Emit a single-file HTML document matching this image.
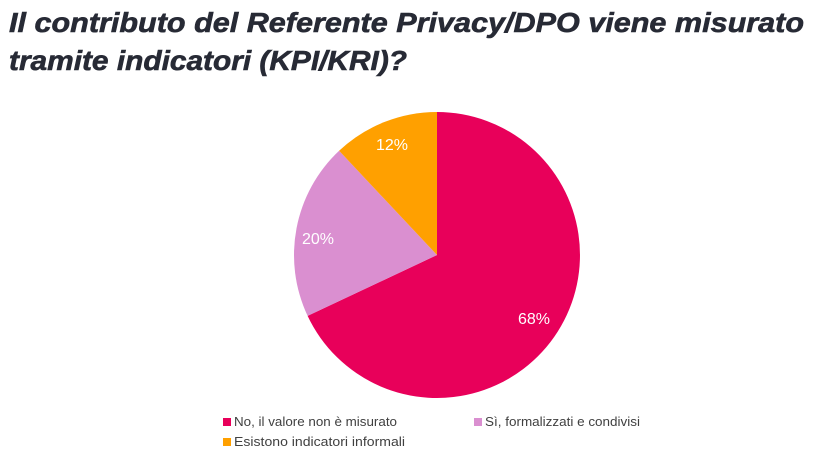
<!DOCTYPE html>
<html><head><style>body{margin:0;background:#fff}svg{display:block}</style></head>
<body>
<svg width="819" height="465" xmlns="http://www.w3.org/2000/svg">
<g font-family="Liberation Sans, sans-serif" font-weight="bold" font-style="italic" fill="#272a35" stroke="#272a35" stroke-width="0.6" font-size="28">
<text x="9" y="32" textLength="795" lengthAdjust="spacingAndGlyphs">Il contributo del Referente Privacy/DPO viene misurato</text>
<text x="9" y="70" textLength="398" lengthAdjust="spacingAndGlyphs">tramite indicatori (KPI/KRI)?</text>
</g>
<path d="M437 255 L437 112 A143 143 0 1 1 307.6 315.9 Z" fill="#e8005a"/>
<path d="M437 255 L307.6 315.9 A143 143 0 0 1 339.1 150.8 Z" fill="#da8fd0"/>
<path d="M437 255 L339.1 150.8 A143 143 0 0 1 437 112 Z" fill="#ffa000"/>
<g font-family="Liberation Sans, sans-serif" fill="#fff" font-size="16" text-anchor="middle">
<text x="534" y="324">68%</text>
<text x="318" y="244">20%</text>
<text x="392" y="150">12%</text>
</g>
<g font-family="Liberation Sans, sans-serif" fill="#404040" font-size="13">
<rect x="223" y="418" width="8" height="8" fill="#e8005a"/>
<text x="234" y="426" textLength="163" lengthAdjust="spacingAndGlyphs">No, il valore non è misurato</text>
<rect x="474" y="418" width="8" height="8" fill="#da8fd0"/>
<text x="485" y="426" textLength="155" lengthAdjust="spacingAndGlyphs">Sì, formalizzati e condivisi</text>
<rect x="223" y="438" width="8" height="8" fill="#ffa000"/>
<text x="234" y="446" textLength="171" lengthAdjust="spacingAndGlyphs">Esistono indicatori informali</text>
</g>
</svg>
</body></html>
